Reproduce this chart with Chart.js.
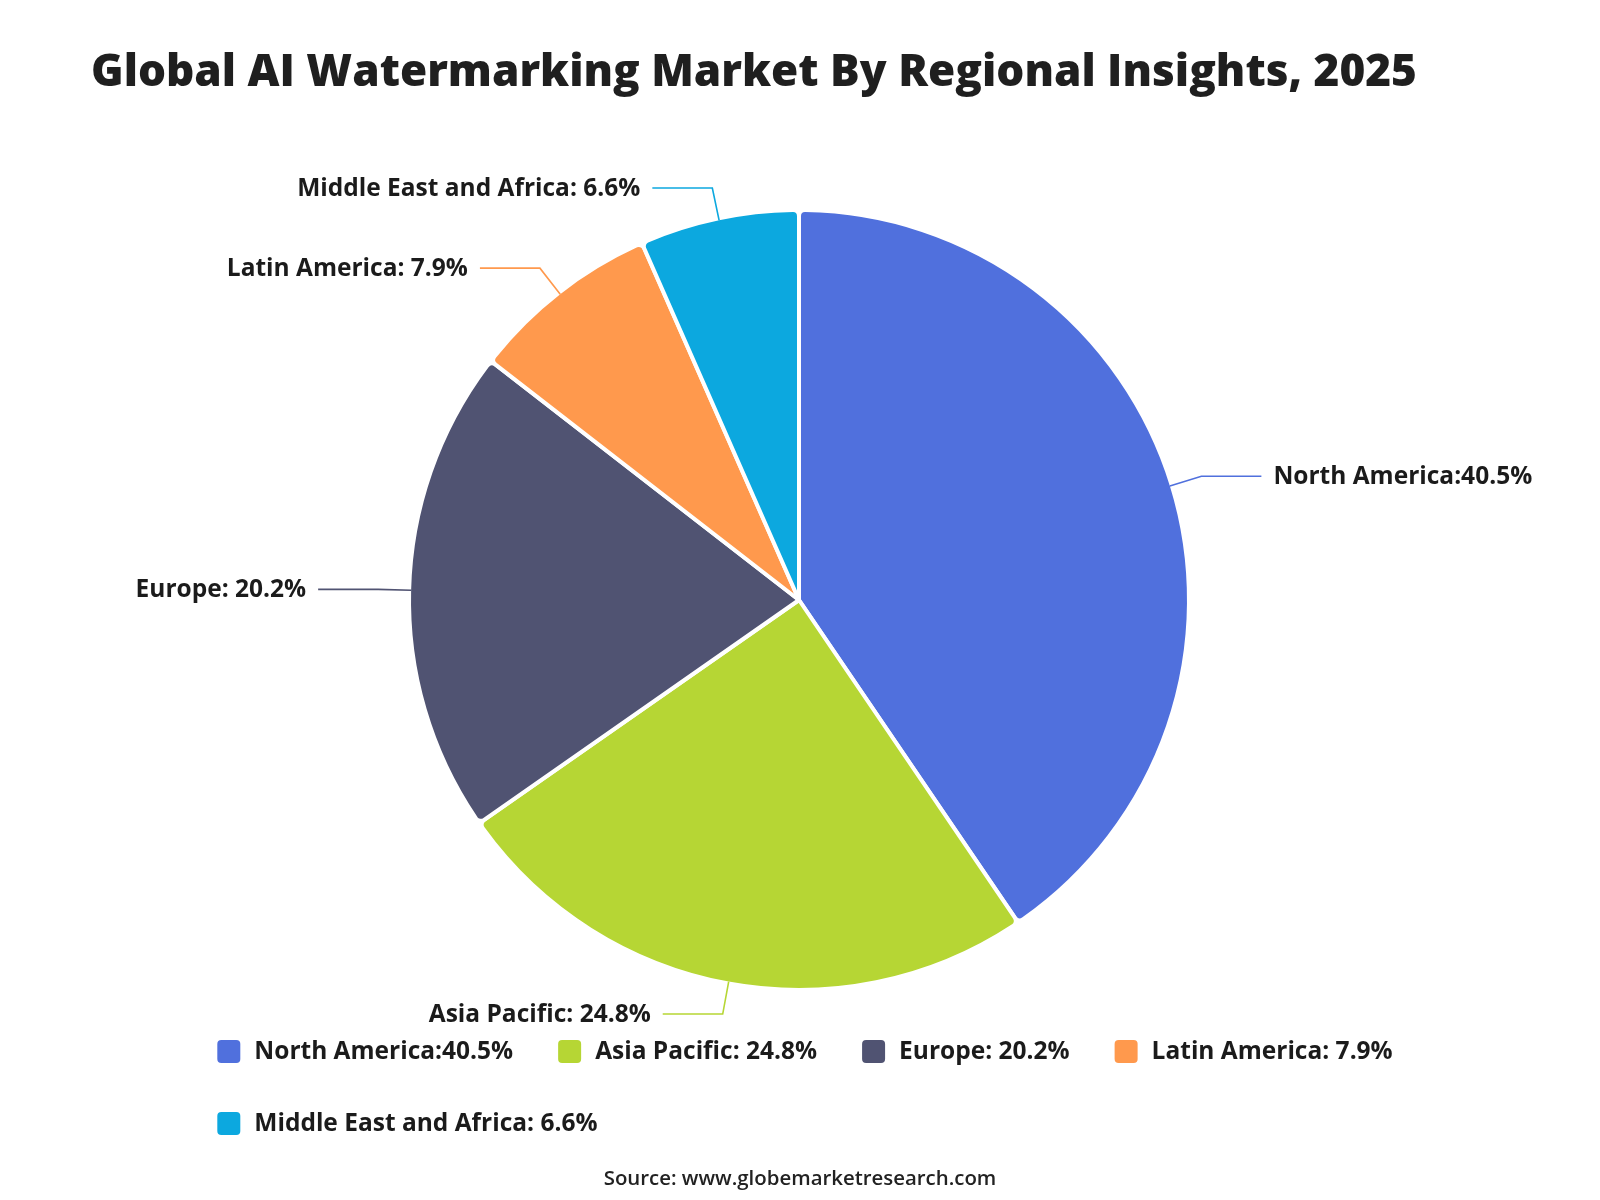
<!DOCTYPE html>
<html><head><meta charset="utf-8">
<script src="https://cdn.jsdelivr.net/npm/chart.js@4.4.1/dist/chart.umd.min.js"></script>
<style>html,body{margin:0;padding:0;background:#fff;}canvas{display:block;}</style>
</head><body>
<canvas id="c" width="1600" height="1200"></canvas>
<script>
const categories = ['North America', 'Asia Pacific', 'Europe', 'Latin America', 'Middle East and Africa'];
const shares = [40.5, 24.8, 20.2, 7.9, 6.6];
const labelTexts = ['North America:40.5%', 'Asia Pacific: 24.8%', 'Europe: 20.2%', 'Latin America: 7.9%', 'Middle East and Africa: 6.6%'];
const colors = ['#5070dd', '#b6d634', '#505372', '#ff994d', '#0ca8df'];
const titleText = 'Global AI Watermarking Market By Regional Insights, 2025';
const sourceText = 'Source: www.globemarketresearch.com';

const FONT = "'Open Sans', 'Noto Sans', sans-serif";

const overlay = {
  id: 'overlay',
  afterDatasetsDraw(chart) {
    const ctx = chart.ctx;
    const meta = chart.getDatasetMeta(0);
    ctx.save();
    // leader lines and outside labels
    meta.data.forEach((arc, i) => {
      const p = arc.getProps(['x', 'y', 'startAngle', 'endAngle', 'outerRadius'], true);
      const mid = (p.startAngle + p.endAngle) / 2;
      const r = p.outerRadius - 2;
      const c = Math.cos(mid), s = Math.sin(mid);
      const x0 = p.x + r * c, y0 = p.y + r * s;
      const x1 = p.x + (r + 33) * c, y1 = p.y + (r + 33) * s;
      const dir = c >= 0 ? 1 : -1;
      const x2 = x1 + dir * 60, y2 = y1;
      ctx.strokeStyle = colors[i];
      ctx.lineWidth = 1.6;
      ctx.beginPath();
      ctx.moveTo(x0, y0); ctx.lineTo(x1, y1); ctx.lineTo(x2, y2);
      ctx.stroke();
      ctx.fillStyle = '#1b1b1b';
      ctx.font = `bold 24.5px ${FONT}`;
      ctx.textBaseline = 'middle';
      ctx.textAlign = dir > 0 ? 'left' : 'right';
      ctx.fillText(labelTexts[i], x2 + dir * 12, y2 + 0.5);
    });

    // title (size fitted to the reference title width)
    ctx.fillStyle = '#1f1f1f';
    ctx.font = `800 46px ${FONT}`;
    const tw = ctx.measureText(titleText).width;
    const tSize = 46 * 1325 / tw;
    ctx.font = `800 ${tSize.toFixed(1)}px ${FONT}`;
    ctx.textAlign = 'left';
    ctx.textBaseline = 'alphabetic';
    ctx.fillText(titleText, 91, 86);

    // legend
    ctx.font = `bold 24.5px ${FONT}`;
    const iconW = 23, iconH = 23, iconGap = 14, itemGap = 45, rowH = 72, maxRowW = 1200;
    const rows = [[]];
    let rw = 0;
    labelTexts.forEach((t, i) => {
      const w = iconW + iconGap + ctx.measureText(t).width;
      const add = rows[rows.length - 1].length ? itemGap + w : w;
      if (rw + add > maxRowW && rows[rows.length - 1].length) {
        rows.push([{ t, i, w }]); rw = w;
      } else {
        rows[rows.length - 1].push({ t, i, w }); rw += add;
      }
    });
    const rowWidths = rows.map(r => r.reduce((a, it, k) => a + it.w + (k ? itemGap : 0), 0));
    const blockW = Math.max(...rowWidths);
    const left = 805 - blockW / 2;
    rows.forEach((row, ri) => {
      let x = left;
      const cy = 1051.5 + ri * rowH;
      row.forEach(it => {
        ctx.fillStyle = colors[it.i];
        ctx.beginPath();
        ctx.roundRect(x, cy - iconH / 2, iconW, iconH, 4);
        ctx.fill();
        ctx.fillStyle = '#1b1b1b';
        ctx.textAlign = 'left';
        ctx.textBaseline = 'middle';
        ctx.fillText(it.t, x + iconW + iconGap, cy + 1);
        x += it.w + itemGap;
      });
    });

    // source
    ctx.fillStyle = '#222';
    ctx.font = `600 20.4px ${FONT}`;
    ctx.textAlign = 'center';
    ctx.textBaseline = 'middle';
    ctx.fillText(sourceText, 800, 1179);
    ctx.restore();
  }
};

new Chart(document.getElementById('c'), {
  type: 'pie',
  data: {
    labels: categories,
    datasets: [{
      data: shares,
      backgroundColor: colors,
      borderColor: '#ffffff',
      borderWidth: 4,
      borderRadius: { outerStart: 6, outerEnd: 6, innerStart: 0, innerEnd: 0 },
      hoverOffset: 0
    }]
  },
  options: {
    responsive: false,
    animation: false,
    layout: { padding: { top: 208, bottom: 208, left: 200, right: 202 } },
    plugins: {
      legend: { display: false },
      title: { display: false },
      tooltip: { enabled: false }
    }
  },
  plugins: [overlay]
});
</script>
</body></html>
